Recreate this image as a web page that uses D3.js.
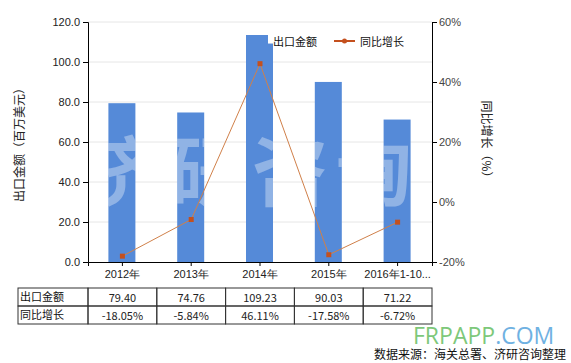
<!DOCTYPE html>
<html>
<head>
<meta charset="utf-8">
<script src="https://cdn.jsdelivr.net/npm/d3@7"></script>
<style>
  body { margin: 0; background: #fff; }
  svg { font-family: "Microsoft YaHei", "Noto Sans CJK SC", sans-serif; }
</style>
</head>
<body>
<div id="chart"></div>
<script>
const categories = ['2012年', '2013年', '2014年', '2015年', '2016年1-10...'];
const exportValues = [79.40, 74.76, 109.23, 90.03, 71.22];
const growthValues = [-18.05, -5.84, 46.11, -17.58, -6.72];
const leftTicks = [0, 20, 40, 60, 80, 100, 120];
const rightTicks = [-20, 0, 20, 40, 60];
const rowNames = ['出口金额', '同比增长'];

const width = 571, height = 363;
const margin = { top: 22, left: 88, right: 139, bottom: 101 };
const plotW = width - margin.left - margin.right;
const plotH = height - margin.top - margin.bottom;

const svg = d3.select('#chart')
  .append('svg')
  .attr('width', width)
  .attr('height', height);

const x = d3.scaleBand().domain(categories).range([margin.left, margin.left + plotW]);
const yL = d3.scaleLinear().domain([0, 120]).range([margin.top + plotH, margin.top]);
const yR = d3.scaleLinear().domain([-20, 60]).range([margin.top + plotH, margin.top]);

// gridlines
svg.append('g')
  .selectAll('line')
  .data(leftTicks.slice(1))
  .enter()
  .append('line')
  .attr('x1', margin.left).attr('x2', margin.left + plotW)
  .attr('y1', d => yL(d)).attr('y2', d => yL(d))
  .attr('stroke', '#e6e6e6');

// bars
const barW = 27;
const barX = i => x(categories[i]) + x.bandwidth() / 2 - barW / 2 - 0.5;
svg.append('g')
  .selectAll('rect')
  .data(exportValues)
  .enter()
  .append('rect')
  .attr('x', (d, i) => barX(i))
  .attr('y', d => yL(d))
  .attr('width', barW)
  .attr('height', d => yL(0) - yL(d))
  .attr('fill', '#558ad8');

// watermark, only visible over the bars
const clip = svg.append('clipPath').attr('id', 'barclip');
exportValues.forEach((d, i) => {
  clip.append('rect')
    .attr('x', barX(i))
    .attr('y', yL(d)).attr('width', barW).attr('height', yL(0) - yL(d));
});
svg.append('g')
  .attr('clip-path', 'url(#barclip)')
  .selectAll('text')
  .data(['济', '研', '咨', '询'])
  .enter()
  .append('text')
  .attr('x', (d, i) => 122 + i * 84)
  .attr('y', 200)
  .attr('text-anchor', 'middle')
  .attr('font-size', 76)
  .attr('font-weight', 'bold')
  .attr('fill', '#ffffff')
  .attr('fill-opacity', 0.35)
  .text(d => d);

// left axis
const leftAxis = svg.append('g')
  .attr('transform', `translate(${margin.left},0)`)
  .call(d3.axisLeft(yL).tickValues(leftTicks).tickFormat(d3.format('.1f')).tickSize(5).tickPadding(3));
leftAxis.select('.domain').attr('stroke', '#000');
leftAxis.selectAll('text').attr('font-size', 11).attr('fill', '#222');

// right axis
const rightAxis = svg.append('g')
  .attr('transform', `translate(${margin.left + plotW},0)`)
  .call(d3.axisRight(yR).tickValues(rightTicks).tickFormat(d => d + '%').tickSize(5).tickPadding(2));
rightAxis.select('.domain').attr('stroke', '#000');
rightAxis.selectAll('text').attr('font-size', 11).attr('fill', '#444');

// bottom axis
const bottomAxis = svg.append('g')
  .attr('transform', `translate(0,${yL(0)})`)
  .call(d3.axisBottom(x).tickSize(4).tickPadding(4));
bottomAxis.select('.domain').attr('stroke', '#000');
bottomAxis.selectAll('text').attr('font-size', 11).attr('fill', '#222');

// growth line
const line = d3.line()
  .x((d, i) => x(categories[i]) + x.bandwidth() / 2)
  .y(d => yR(d));
svg.append('path')
  .datum(growthValues)
  .attr('d', line)
  .attr('fill', 'none')
  .attr('stroke', '#d0804a')
  .attr('stroke-width', 1);
svg.append('g')
  .selectAll('rect')
  .data(growthValues)
  .enter()
  .append('rect')
  .attr('x', (d, i) => x(categories[i]) + x.bandwidth() / 2 - 2.5)
  .attr('y', d => yR(d) - 2.5)
  .attr('width', 5).attr('height', 5)
  .attr('fill', '#c4501e');

// axis titles
svg.append('text')
  .attr('transform', `translate(24,${margin.top + plotH / 2}) rotate(-90)`)
  .attr('text-anchor', 'middle')
  .attr('font-size', 12)
  .attr('fill', '#222')
  .text('出口金额（百万美元）');
svg.append('text')
  .attr('transform', `translate(482,${margin.top + plotH / 2}) rotate(90)`)
  .attr('text-anchor', 'middle')
  .attr('font-size', 12)
  .attr('fill', '#222')
  .text('同比增长（%）');

// legend
const legend = svg.append('g');
legend.append('rect').attr('x', 246).attr('y', 35).attr('width', 22).attr('height', 9).attr('fill', '#558ad8');
legend.append('text').attr('x', 273).attr('y', 46).attr('font-size', 11).attr('fill', '#111').text('出口金额');
legend.append('line').attr('x1', 334).attr('x2', 355).attr('y1', 41).attr('y2', 41).attr('stroke', '#c4501e').attr('stroke-width', 2);
legend.append('circle').attr('cx', 344.5).attr('cy', 41).attr('r', 2.5).attr('fill', '#c4501e');
legend.append('text').attr('x', 360).attr('y', 46).attr('font-size', 11).attr('fill', '#111').text('同比增长');

// data table
const tableTop = 288, rowH = 18, tableLeft = 18;
const table = svg.append('g');
const rows = [exportValues.map(d => d.toFixed(2)), growthValues.map(d => d.toFixed(2) + '%')];
rows.forEach((row, r) => {
  const ty = tableTop + r * rowH;
  table.append('rect')
    .attr('x', tableLeft).attr('y', ty)
    .attr('width', margin.left - tableLeft).attr('height', rowH)
    .attr('fill', 'none').attr('stroke', '#333');
  table.append('text')
    .attr('x', tableLeft + 2).attr('y', ty + 13)
    .attr('font-size', 11).attr('fill', '#111')
    .text(rowNames[r]);
  row.forEach((v, i) => {
    table.append('rect')
      .attr('x', x(categories[i])).attr('y', ty)
      .attr('width', x.bandwidth()).attr('height', rowH)
      .attr('fill', 'none').attr('stroke', '#333');
    table.append('text')
      .attr('x', x(categories[i]) + x.bandwidth() / 2).attr('y', ty + 14)
      .attr('text-anchor', 'middle')
      .attr('font-size', 11).attr('fill', '#222')
      .text(v);
  });
});

// site watermark + source
const wm = svg.append('text').attr('x', 413).attr('y', 344).attr('font-size', 23).attr('font-family', 'Open Sans, sans-serif');
wm.append('tspan').attr('fill', '#7dc87a').text('FRPAPP');
wm.append('tspan').attr('fill', '#6fb1e2').text('.COM');
svg.append('text')
  .attr('x', 566).attr('y', 359)
  .attr('text-anchor', 'end')
  .attr('font-size', 12)
  .attr('fill', '#111')
  .text('数据来源：海关总署、济研咨询整理');
</script>
</body>
</html>
